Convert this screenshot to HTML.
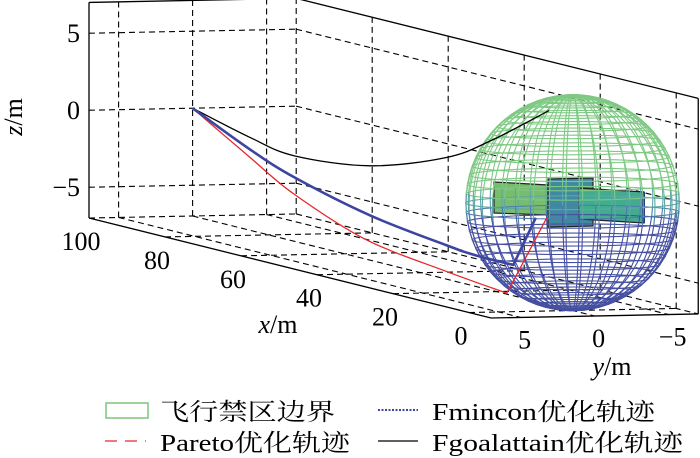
<!DOCTYPE html>
<html><head><meta charset="utf-8"><style>
html,body{margin:0;padding:0;background:#fff;width:700px;height:458px;overflow:hidden}
svg{display:block}
text{font-family:"Liberation Serif","Noto Serif CJK SC","Noto Sans CJK SC",serif;fill:#000}
</style></head><body>
<svg id="chart" width="700" height="458" viewBox="0 0 700 458">
<g id="grid"></g>
<g id="sat">
<polygon points="494,182 548,185 548,215 494,213" fill="#78bd6e" stroke="#222" stroke-width="1.2"/>
<polygon points="548,179 593,178 593,226 548,227" fill="#3f8aa0" stroke="#222" stroke-width="1.2"/>
<polygon points="579,188 644,192 644,223 579,219" fill="#42ad8e" stroke="#222" stroke-width="1.2"/>
<rect x="642" y="192" width="3" height="31" fill="#2a3c80"/>
</g>
<g id="sphere"></g>
<g id="traj"></g>
<g id="labels"></g>
<g>
<g>
<rect x="106" y="403" width="42" height="15" fill="none" stroke="#7cc47c" stroke-width="1.5"/>
<text x="160" y="420" font-size="24" textLength="175" lengthAdjust="spacingAndGlyphs">飞行禁区边界</text>
</g>
<g>
<line x1="378" y1="410" x2="418" y2="410" stroke="#3c46a0" stroke-width="2" stroke-dasharray="2,1.5"/>
<text x="432" y="420" font-size="24" textLength="223" lengthAdjust="spacingAndGlyphs">Fmincon优化轨迹</text>
</g>
<g>
<line x1="105" y1="441" x2="146" y2="441" stroke="#e8262a" stroke-width="1.3" stroke-dasharray="12,8"/>
<text x="160" y="451" font-size="24" textLength="190" lengthAdjust="spacingAndGlyphs">Pareto优化轨迹</text>
</g>
<g>
<line x1="378" y1="441" x2="418" y2="441" stroke="#000" stroke-width="1.3"/>
<text x="432" y="451" font-size="24" textLength="251" lengthAdjust="spacingAndGlyphs">Fgoalattain优化轨迹</text>
</g>
</g>
</svg>
<script>
// ---- data ----
const xTicks = [100, 80, 60, 40, 20, 0];
const yTicks = [5, 0, -5];
const zTicks = [5, 0, -5];
const xTickLabels = ["100", "80", "60", "40", "20", "0"];
const yTickLabels = ["5", "0", "\u22125"];
const zTickLabels = ["5", "0", "\u22125"];
const blueX = [100, 84.9, 73.2, 53.2, 33.2, 25.6, 15.6, 9.7];
const blueZ = [0, -1.75, -2.85, -4.1, -4.8, -4.98, -5.0, -1.58];
const redX = [100, 84.9, 73.2, 54.4, 33.2, 17.3, 6.8];
const redZ = [0, -2.27, -3.95, -5.73, -6.5, -6.94, -1.4];
const blackX = [100, 84.9, 73.2, 53.2, 33.2, 21.5, 6.2];
const blackZ = [0, -0.97, -1.45, -0.87, 0.9, 2.71, 5.6];
const sphereRadius = [7];

const NS = "http://www.w3.org/2000/svg";
const XMIN = -5.8, XMAX = 100, YLIM = 7, ZLIM = 7;
function P(x, y, z) { return [572.6 - 3.8 * x - 14.8 * y, 202.7 - 0.945 * x + 0.29 * y - 15.4 * z]; }
function mk(tag, attrs, parent) {
  const e = document.createElementNS(NS, tag);
  for (const k in attrs) e.setAttribute(k, attrs[k]);
  parent.appendChild(e);
  return e;
}
const grid = document.getElementById('grid');
function seg(a, b, dashed, name) {
  const p = P(...a), q = P(...b);
  const l = mk('line', { x1: p[0], y1: p[1], x2: q[0], y2: q[1], stroke: '#000', 'stroke-width': dashed ? 1.1 : 1.3, 'stroke-dasharray': dashed ? '6,4' : 'none' }, grid);
  
  
}
yTicks.forEach(y => seg([XMAX, y, -ZLIM], [XMAX, y, ZLIM], true, 'back-wall-gridline'));
zTicks.forEach(z => seg([XMAX, YLIM, z], [XMAX, -YLIM, z], true, 'back-wall-gridline'));
seg([XMAX, -YLIM, -ZLIM], [XMAX, -YLIM, ZLIM], true, 'back-corner-edge');
seg([XMAX, YLIM, -ZLIM], [XMAX, -YLIM, -ZLIM], true, 'back-floor-edge');
seg([XMAX, -YLIM, -ZLIM], [XMIN, -YLIM, -ZLIM], true, 'side-floor-edge');
xTicks.slice(1).forEach(x => seg([x, -YLIM, -ZLIM], [x, -YLIM, ZLIM], true, 'side-wall-gridline'));
zTicks.forEach(z => seg([XMAX, -YLIM, z], [XMIN, -YLIM, z], true, 'side-wall-gridline'));
yTicks.forEach(y => seg([XMAX, y, -ZLIM], [XMIN, y, -ZLIM], true, 'floor-gridline'));
xTicks.slice(1).forEach(x => seg([x, YLIM, -ZLIM], [x, -YLIM, -ZLIM], true, 'floor-gridline'));
seg([XMAX, YLIM, -ZLIM], [XMAX, YLIM, ZLIM], false, 'box-edge');
seg([XMAX, YLIM, ZLIM], [XMAX, -YLIM, ZLIM], false, 'box-edge');
seg([XMAX, -YLIM, ZLIM], [XMIN, -YLIM, ZLIM], false, 'box-edge');
seg([XMIN, -YLIM, ZLIM], [XMIN, -YLIM, -ZLIM], false, 'box-edge');
seg([XMAX, YLIM, -ZLIM], [XMIN, YLIM, -ZLIM], false, 'x-axis-line');
seg([XMIN, YLIM, -ZLIM], [XMIN, -YLIM, -ZLIM], false, 'y-axis-line');

const sph = document.getElementById('sphere');
const R = sphereRadius[0];
function sphColor(zn) {
  if (zn > 0.05) return '#7ec983';
  if (zn > -0.05) return '#5fa6a8';
  if (zn > -0.15) return '#4d7cae';
  return '#4650a2';
}
const NLAT = 36, NLON = 40;
for (let i = 1; i < NLAT; i++) {
  const phi = -Math.PI / 2 + Math.PI * i / NLAT;
  const z = R * Math.sin(phi), r = R * Math.cos(phi);
  let pts = [];
  for (let j = 0; j <= 72; j++) {
    const t = 2 * Math.PI * j / 72;
    pts.push(P(r * Math.cos(t), r * Math.sin(t), z).map(v => v.toFixed(1)).join(','));
  }
  const pl = mk('polyline', { points: pts.join(' '), fill: 'none', stroke: sphColor(Math.sin(phi)), 'stroke-width': 1.1 }, sph);
  
  
}
for (let j = 0; j < NLON; j++) {
  const t = 2 * Math.PI * j / NLON;
  for (let k = 0; k < NLAT; k++) {
    const p1 = -Math.PI / 2 + Math.PI * k / NLAT, p2 = -Math.PI / 2 + Math.PI * (k + 1) / NLAT;
    const a = P(R * Math.cos(p1) * Math.cos(t), R * Math.cos(p1) * Math.sin(t), R * Math.sin(p1));
    const b = P(R * Math.cos(p2) * Math.cos(t), R * Math.cos(p2) * Math.sin(t), R * Math.sin(p2));
    const l = mk('line', { x1: a[0], y1: a[1], x2: b[0], y2: b[1], stroke: sphColor(Math.sin((p1 + p2) / 2)), 'stroke-width': 1.1 }, sph);
    
    
  }
}

const tr = document.getElementById('traj');
function traj(xs, zs, corner, color, w, name) {
  const pts = xs.map((x, i) => P(x, 0, zs[i]));
  let d = 'M' + pts[0].join(',');
  for (let i = 0; i < corner; i++) {
    const p0 = pts[Math.max(i - 1, 0)], p1 = pts[i], p2 = pts[i + 1], p3 = pts[Math.min(i + 2, corner)];
    const c1 = [p1[0] + (p2[0] - p0[0]) / 6, p1[1] + (p2[1] - p0[1]) / 6];
    const c2 = [p2[0] - (p3[0] - p1[0]) / 6, p2[1] - (p3[1] - p1[1]) / 6];
    d += ' C' + c1.join(',') + ' ' + c2.join(',') + ' ' + p2.join(',');
  }
  for (let i = corner + 1; i < pts.length; i++) d += ' L' + pts[i].join(',');
  const p = mk('path', { d: d, fill: 'none', stroke: color, 'stroke-width': w, 'stroke-linejoin': 'round' }, tr);
  
  
}
traj(blackX, blackZ, blackX.length - 1, '#000', 1.3, 'fgoalattain-trajectory');
traj(redX, redZ, redX.length - 2, '#e8262a', 1.3, 'pareto-trajectory');
traj(blueX, blueZ, blueX.length - 2, '#3c46a0', 2.6, 'fmincon-trajectory');

const lab = document.getElementById('labels');
function txt(x, y, s, attrs, name) {
  const t = mk('text', Object.assign({ x: x, y: y, 'font-size': 26 }, attrs || {}), lab);
  t.textContent = s;
  
  
  return t;
}
zTicks.forEach((z, i) => { const p = P(XMAX, YLIM, z); txt(p[0] - 9, p[1] + 9, zTickLabels[i], { 'text-anchor': 'end' }, 'z-tick-label'); });
xTicks.forEach((x, i) => { const p = P(x, YLIM, -ZLIM); txt(p[0] - 8, p[1] + 32, xTickLabels[i], { 'text-anchor': 'middle' }, 'x-tick-label'); });
yTicks.forEach((y, i) => { const p = P(XMIN, y, -ZLIM); txt(p[0] + 4, p[1] + 31, yTickLabels[i], { 'text-anchor': 'middle' }, 'y-tick-label'); });
const zl = txt(0, 0, '', { 'text-anchor': 'middle', transform: 'translate(22,117) rotate(-90)' }, 'z-axis-title');
zl.innerHTML = '<tspan font-style="italic">z</tspan>/m';
const xl = txt(278, 333, '', { 'text-anchor': 'middle' }, 'x-axis-title');
xl.innerHTML = '<tspan font-style="italic">x</tspan>/m';
const yl = txt(612, 375, '', { 'text-anchor': 'middle' }, 'y-axis-title');
yl.innerHTML = '<tspan font-style="italic">y</tspan>/m';
</script>
</body></html>
